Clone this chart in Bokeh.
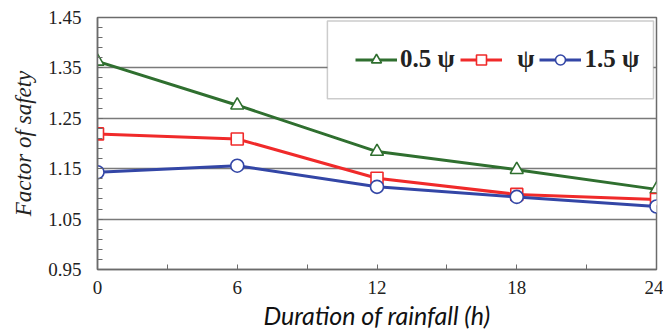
from bokeh.plotting import figure
from bokeh.models import (FixedTicker, Legend, LegendItem, BoxAnnotation, Range1d)
from bokeh.embed import file_html
from bokeh.resources import INLINE

# ---- data ----
hours = [0, 6, 12, 18, 24]
fs_05psi = [1.363, 1.276, 1.184, 1.148, 1.109]
fs_psi = [1.219, 1.209, 1.131, 1.099, 1.089]
fs_15psi = [1.143, 1.156, 1.114, 1.094, 1.075]
x_ticks = [0, 6, 12, 18, 24]
x_minor = [3, 9, 15, 21]
y_ticks = [0.95, 1.05, 1.15, 1.25, 1.35, 1.45]
y_tick_labels = ["0.95", "1.05", "1.15", "1.25", "1.35", "1.45"]
series_labels = ["0.5\u00a0\u03c8", "\u00a0\u00a0\u03c8", "1.5\u00a0\u03c8"]

GREEN = "#2f6f2f"
RED = "#f02a2a"
BLUE = "#3346a6"
AX = "#6b6b6b"

p = figure(width=663, height=336, output_backend="svg", toolbar_location=None,
           x_range=Range1d(0, 24), y_range=Range1d(0.95, 1.45),
           min_border_left=97, min_border_right=7, min_border_top=17,
           min_border_bottom=67)
p.background_fill_color = "white"
p.border_fill_color = "white"
p.outline_line_color = AX
p.outline_line_width = 1.5

# axes
p.xaxis.ticker = FixedTicker(ticks=x_ticks, minor_ticks=x_minor)
p.yaxis.ticker = FixedTicker(ticks=y_ticks,
                             minor_ticks=[round(0.95 + 0.02 * i, 2) for i in range(26)])
p.yaxis.major_label_overrides = {v: s for v, s in zip(y_ticks, y_tick_labels)}
for ax in (p.xaxis, p.yaxis):
    ax.axis_line_color = AX
    ax.axis_line_width = 1.5
    ax.major_tick_line_color = AX
    ax.minor_tick_line_color = AX
    ax.major_tick_in = 5
    ax.major_tick_out = 0
    ax.minor_tick_in = 5
    ax.minor_tick_out = 0
    ax.major_label_text_font = "Liberation Serif"
    ax.major_label_text_font_size = "19px"
    ax.major_label_text_color = "#222222"
p.xaxis.major_label_standoff = 11
p.yaxis.major_label_standoff = 16

p.xaxis.axis_label = "Duration of rainfall (h)"
p.xaxis.axis_label_text_font = "Lato"
p.xaxis.axis_label_text_font_style = "italic"
p.xaxis.axis_label_text_font_size = "25px"
p.xaxis.axis_label_text_color = "#111111"
p.xaxis.axis_label_standoff = 3

p.yaxis.axis_label = "Factor of safety"
p.yaxis.axis_label_text_font = "Liberation Serif"
p.yaxis.axis_label_text_font_style = "italic"
p.yaxis.axis_label_text_font_size = "23px"
p.yaxis.axis_label_text_color = "#222222"
p.yaxis.axis_label_standoff = 9

# grid
p.xgrid.grid_line_color = None
p.ygrid.ticker = FixedTicker(ticks=[1.05, 1.15, 1.25, 1.35])
p.ygrid.grid_line_color = "#7a7a7a"
p.ygrid.grid_line_width = 1.5

# series
l1 = p.line(hours, fs_05psi, line_color=GREEN, line_width=3)
m1 = p.scatter(hours, fs_05psi, marker="triangle", size=13, line_color=GREEN,
               fill_color="white", line_width=1.6)
l2 = p.line(hours, fs_psi, line_color=RED, line_width=3)
m2 = p.scatter(hours, fs_psi, marker="square", size=12, line_color=RED,
               fill_color="white", line_width=1.6)
l3 = p.line(hours, fs_15psi, line_color=BLUE, line_width=3)
m3 = p.scatter(hours, fs_15psi, marker="circle", size=13, line_color=BLUE,
               fill_color="white", line_width=1.6)

# legend box
box = BoxAnnotation(left=9.87, right=23.87, top=1.443, bottom=1.289,
                    fill_color="white", fill_alpha=1.0,
                    line_color="#555555", line_width=1.5)
p.add_layout(box)

legend = Legend(items=[LegendItem(label=series_labels[0], renderers=[l1, m1]),
                       LegendItem(label=series_labels[1], renderers=[l2, m2]),
                       LegendItem(label=series_labels[2], renderers=[l3, m3])],
                orientation="horizontal", location=(258, 196),
                padding=0, margin=0, spacing=5, label_standoff=3,
                glyph_width=42, glyph_height=25, label_height=25,
                label_text_font="Liberation Serif", label_text_font_style="bold",
                label_text_font_size="25px", label_text_color="#222222",
                background_fill_alpha=0, border_line_alpha=0)
p.add_layout(legend)

open("out.html", "w").write(file_html(p, INLINE))
